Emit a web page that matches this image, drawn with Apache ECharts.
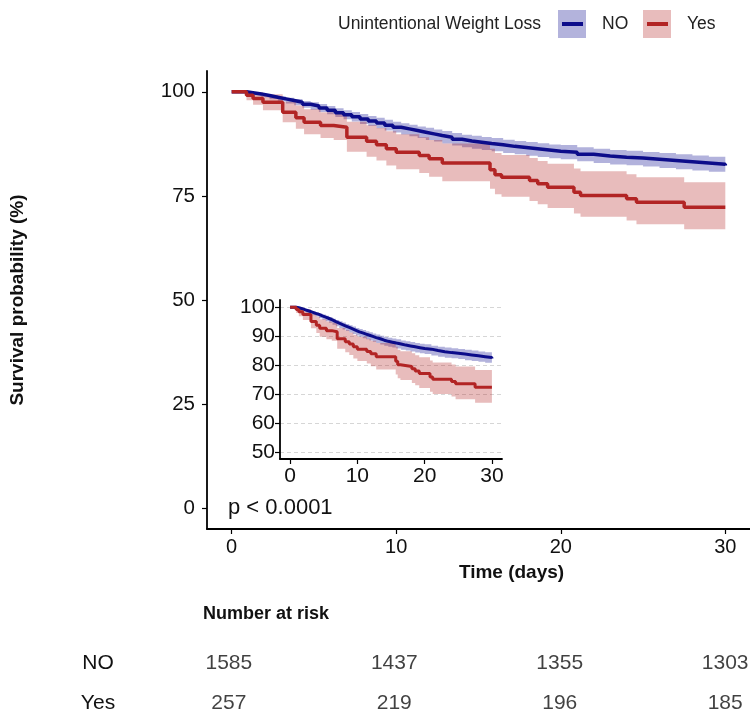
<!DOCTYPE html>
<html>
<head>
<meta charset="utf-8">
<title>Survival by unintentional weight loss</title>
<script src="https://cdn.jsdelivr.net/npm/echarts@6/dist/echarts.min.js"></script>
<style>
html, body { margin: 0; padding: 0; background: #fff; }
#chart { width: 750px; height: 714px; }
</style>
</head>
<body>
<div id="chart"></div>
<script>
// Kaplan-Meier estimates (percent)
const noTime = [0, 0.9, 1.3, 1.8, 2.3, 2.8, 3.3, 3.8, 4.3, 4.8, 5.3, 5.8, 6.3, 6.8, 7.3, 7.8, 8.3, 8.8, 9.3, 9.8, 10.3, 10.8, 11.3, 11.8, 12.3, 12.8, 13.4, 14.0, 14.6, 15.2, 15.8, 16.5, 17.2, 17.9, 18.6, 19.3, 20, 21, 22, 23, 24, 25, 26, 27, 28, 29, 30]
const noSurv = [100, 99.8, 99.5, 99.1, 98.7, 98.3, 97.9, 97.5, 97.0, 96.6, 96.1, 95.6, 95.0, 94.5, 94.0, 93.5, 93.0, 92.5, 92.0, 91.5, 91.1, 90.7, 90.3, 89.9, 89.5, 89.1, 88.6, 88.2, 87.9, 87.6, 87.3, 86.9, 86.6, 86.3, 86.0, 85.7, 85.5, 85.0, 84.6, 84.3, 84.1, 83.8, 83.5, 83.2, 82.9, 82.6, 82.3]
const noLower = [100, 99.6, 99.2, 98.7, 98.2, 97.7, 97.2, 96.75, 96.2, 95.7, 95.15, 94.6, 93.95, 93.4, 92.85, 92.3, 91.8, 91.25, 90.7, 90.2, 89.75, 89.3, 88.9, 88.45, 88.05, 87.6, 87.1, 86.7, 86.35, 86.05, 85.7, 85.3, 85.0, 84.65, 84.35, 84.05, 83.8, 83.3, 82.9, 82.55, 82.35, 82.05, 81.7, 81.4, 81.1, 80.8, 80.5]
const noUpper = [100, 100, 99.8, 99.5, 99.2, 98.9, 98.6, 98.25, 97.8, 97.5, 97.05, 96.6, 96.05, 95.6, 95.15, 94.7, 94.2, 93.75, 93.3, 92.8, 92.45, 92.1, 91.7, 91.35, 90.95, 90.6, 90.1, 89.7, 89.45, 89.15, 88.9, 88.5, 88.2, 87.95, 87.65, 87.35, 87.2, 86.7, 86.3, 86.05, 85.85, 85.55, 85.3, 85.0, 84.7, 84.4, 84.1]

const yesTime = [0, 0.9, 1.3, 1.9, 3.1, 3.9, 4.4, 5.4, 6.2, 7.0, 8.2, 8.8, 9.4, 10.0, 11.4, 12.0, 12.8, 15.7, 16.0, 16.4, 18.1, 18.6, 19.2, 20.8, 21.2, 24.0, 24.6, 27.5, 30]
const yesSurv = [100, 99.2, 98.4, 97.5, 95.1, 93.8, 92.7, 91.9, 91.5, 89.1, 88.1, 87.3, 86.3, 85.5, 84.7, 83.9, 82.9, 81.3, 80.1, 79.5, 78.7, 77.9, 77.1, 75.9, 75.1, 74.3, 73.5, 72.3, 72.3]
const yesLower = [100, 98.0, 96.9, 95.6, 92.7, 91.1, 89.8, 88.9, 88.4, 85.6, 84.4, 83.5, 82.3, 81.4, 80.5, 79.6, 78.5, 76.7, 75.4, 74.8, 73.8, 73.0, 72.1, 70.8, 70.0, 69.1, 68.2, 67.0, 67.0]
const yesUpper = [100, 100, 99.9, 99.4, 97.6, 96.7, 95.8, 95.1, 94.7, 92.8, 92.0, 91.3, 90.5, 89.8, 89.1, 88.4, 87.6, 86.3, 85.3, 84.8, 84.1, 83.4, 82.7, 81.6, 80.9, 80.2, 79.5, 78.3, 78.3]

// number at risk table
const riskTimes = [0, 10, 20, 30]
const riskNo = [1585, 1437, 1355, 1303]
const riskYes = [257, 219, 196, 185]

const xTicks = [0, 10, 20, 30]
const yTicksMain = [0, 25, 50, 75, 100]
const yTicksInset = [50, 60, 70, 80, 90, 100]

const FONT = 'Liberation Sans'
const TXT = '#111'
const BLUE = '#0c0c8a'
const RED = '#b22424'
const BLUE_FILL = 'rgba(0,0,139,0.3)'
const RED_FILL = 'rgba(178,34,34,0.3)'

function pairs (xs, ys) {
  return xs.map((x, i) => [x, ys[i]])
}
function triples (xs, lo, hi) {
  return xs.map((x, i) => [x, lo[i], hi[i]])
}

// step-shaped confidence band, drawn as one polygon through the axis scales
function bandRenderer (fill) {
  return function (params, api) {
    if (params.dataIndexInside !== 0) return null
    const n = params.dataInsideLength
    const top = []
    const bottom = []
    for (let i = 0; i < n; i++) {
      const t = api.value(0, i)
      const tNext = i < n - 1 ? api.value(0, i + 1) : t
      top.push(api.coord([t, api.value(2, i)]), api.coord([tNext, api.value(2, i)]))
      bottom.push(api.coord([t, api.value(1, i)]), api.coord([tNext, api.value(1, i)]))
    }
    return {
      type: 'polygon',
      shape: { points: top.concat(bottom.reverse()) },
      style: { fill: fill }
    }
  }
}

function panelSeries (idx, lw) {
  const axes = { xAxisIndex: idx, yAxisIndex: idx, silent: true }
  return [
    Object.assign({ type: 'custom', data: triples(noTime, noLower, noUpper), encode: { x: 0, y: [1, 2] }, renderItem: bandRenderer(BLUE_FILL), z: 1 }, axes),
    Object.assign({ type: 'custom', data: triples(yesTime, yesLower, yesUpper), encode: { x: 0, y: [1, 2] }, renderItem: bandRenderer(RED_FILL), z: 1 }, axes),
    Object.assign({ type: 'line', name: 'NO', step: 'end', symbol: 'none', data: pairs(noTime, noSurv), lineStyle: { color: BLUE, width: lw }, z: 3 }, axes),
    Object.assign({ type: 'line', name: 'Yes', step: 'end', symbol: 'none', data: pairs(yesTime, yesSurv), lineStyle: { color: RED, width: lw }, z: 3 }, axes)
  ]
}

function xAxisFor (idx, fontSize, margin) {
  return {
    gridIndex: idx,
    type: 'value',
    min: -1.5,
    max: 31.5,
    axisLine: { show: true, onZero: false, lineStyle: { color: '#000', width: 1.8 } },
    axisTick: { show: true, length: 5, customValues: xTicks, lineStyle: { color: '#000', width: 1.2 } },
    axisLabel: { customValues: xTicks, fontFamily: FONT, fontSize: fontSize, color: TXT, margin: margin },
    splitLine: { show: false }
  }
}

function yAxisFor (idx, min, max, ticks, fontSize, margin) {
  return {
    gridIndex: idx,
    type: 'value',
    min: min,
    max: max,
    axisLine: { show: true, onZero: false, lineStyle: { color: '#000', width: 1.8 } },
    axisTick: { show: true, length: 5, customValues: ticks, lineStyle: { color: '#000', width: 1.2 } },
    axisLabel: { customValues: ticks, fontFamily: FONT, fontSize: fontSize, color: TXT, margin: margin },
    splitLine: { show: false }
  }
}

const chart = echarts.init(document.getElementById('chart'))

const mainY = yAxisFor(0, -5, 105, yTicksMain, 20.5, 12)
mainY.name = 'Survival probability (%)'
mainY.nameLocation = 'middle'
mainY.nameGap = 180
mainY.nameTextStyle = { fontFamily: FONT, fontSize: 19, fontWeight: 'bold', color: TXT }

const mainX = xAxisFor(0, 20, 8)
mainX.name = 'Time (days)'
mainX.nameLocation = 'middle'
mainX.nameGap = 34
mainX.nameTextStyle = { fontFamily: FONT, fontSize: 19, fontWeight: 'bold', color: TXT, padding: [0, 0, 0, 66] }

const insetSeries = panelSeries(1, 3)
// dashed reference lines of the inset
insetSeries[2].markLine = {
  silent: true,
  symbol: 'none',
  label: { show: false },
  lineStyle: { type: [4, 3], color: '#d6d6d6', width: 1 },
  z: 0,
  data: yTicksInset.map(v => ({ yAxis: v }))
}

const option = {
  animation: false,
  backgroundColor: '#fff',
  title: {
    text: 'Number at risk',
    left: 203,
    top: 605,
    padding: 0,
    textStyle: { fontFamily: FONT, fontSize: 18, fontWeight: 'bold', color: TXT }
  },
  grid: [
    { left: 204, right: 0, top: 71, bottom: 185 },
    { left: 280, right: 248, top: 300, bottom: 255 },
    { left: 204, right: 0, top: 663, bottom: 9 }
  ],
  xAxis: [
    mainX,
    xAxisFor(1, 21, 7),
    { gridIndex: 2, type: 'value', min: -1.5, max: 31.5, show: false }
  ],
  yAxis: [
    mainY,
    yAxisFor(1, 47.5, 102.5, yTicksInset, 21, 5),
    {
      gridIndex: 2,
      type: 'category',
      data: ['Yes', 'NO'],
      boundaryGap: false,
      axisLine: { show: false },
      axisTick: { show: false },
      splitLine: { show: false },
      axisLabel: { fontFamily: FONT, fontSize: 21, color: TXT, align: 'center', margin: 106 }
    }
  ],
  graphic: [
    { type: 'text', left: 228, top: 497, style: { text: 'p < 0.0001', font: '22px "Liberation Sans"', fill: TXT } },
    // legend
    { type: 'text', left: 338, top: 15, style: { text: 'Unintentional Weight Loss', font: '17.5px "Liberation Sans"', fill: '#222' } },
    { type: 'rect', shape: { x: 558, y: 10, width: 28, height: 28 }, style: { fill: '#b3b3dc' } },
    { type: 'line', shape: { x1: 562, y1: 24, x2: 583, y2: 24 }, style: { stroke: BLUE, lineWidth: 4 } },
    { type: 'text', left: 602, top: 15, style: { text: 'NO', font: '17.5px "Liberation Sans"', fill: '#222' } },
    { type: 'rect', shape: { x: 643, y: 10, width: 28, height: 28 }, style: { fill: '#e8bcbc' } },
    { type: 'line', shape: { x1: 647, y1: 24, x2: 668, y2: 24 }, style: { stroke: RED, lineWidth: 4 } },
    { type: 'text', left: 687, top: 15, style: { text: 'Yes', font: '17.5px "Liberation Sans"', fill: '#222' } }
  ],
  series: panelSeries(0, 3.5).concat(insetSeries).concat([
    {
      type: 'scatter',
      xAxisIndex: 2,
      yAxisIndex: 2,
      symbolSize: 0,
      silent: true,
      data: riskTimes.map((t, i) => [t, 'NO', riskNo[i]]).concat(riskTimes.map((t, i) => [t, 'Yes', riskYes[i]])),
      label: {
        show: true,
        position: 'inside',
        formatter: p => String(p.value[2]),
        fontFamily: FONT,
        fontSize: 21,
        color: TXT
      }
    }
  ])
}

chart.setOption(option)
</script>
</body>
</html>
